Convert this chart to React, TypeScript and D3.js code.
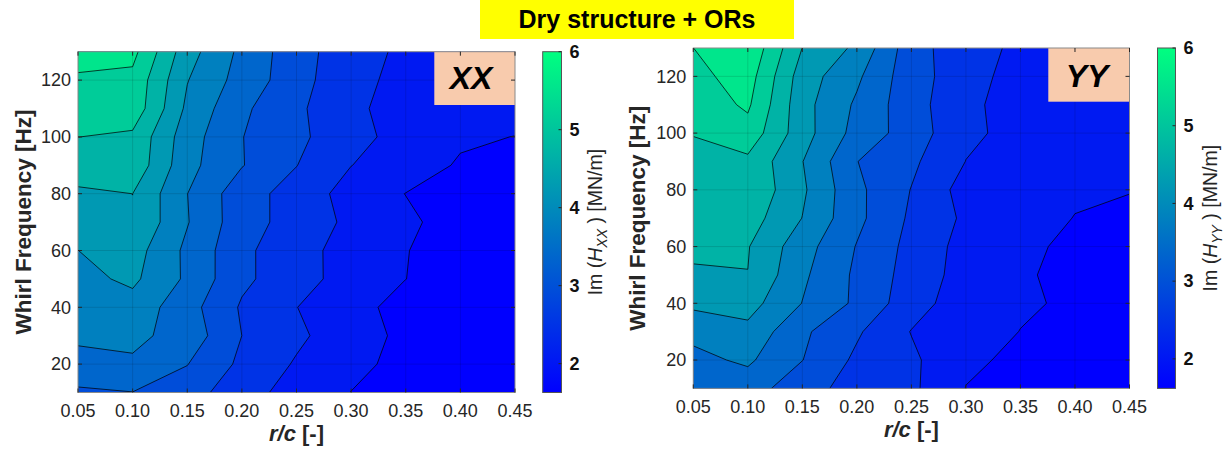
import React from "react";
import * as d3 from "d3";

// ---------- data ----------
const rc = [0.05, 0.1, 0.15, 0.2, 0.25, 0.3, 0.35, 0.4, 0.45];
const freq = [10, 20, 30, 40, 50, 60, 70, 80, 90, 100, 110, 120, 130];
const xTicks = [0.05, 0.1, 0.15, 0.2, 0.25, 0.3, 0.35, 0.4, 0.45];
const yTicks = [20, 40, 60, 80, 100, 120];
const cbTicks = [2, 3, 4, 5, 6];

// Im(H_XX) [MN/m], rows = freq (10 -> 130 Hz), cols = r/c (0.05 -> 0.45)
const imHxx = [
  [3.31, 3.37, 3.16, 2.64, 2.37, 2.06, 1.8, 1.67, 1.63],
  [3.66, 3.75, 3.39, 2.85, 2.46, 2.2, 1.92, 1.76, 1.7],
  [3.9, 3.92, 3.64, 2.94, 2.59, 2.24, 1.98, 1.78, 1.74],
  [3.99, 4.08, 3.55, 2.89, 2.51, 2.22, 1.91, 1.8, 1.76],
  [4.12, 4.34, 3.74, 3.03, 2.68, 2.32, 2.07, 1.87, 1.83],
  [4.25, 4.44, 3.72, 3.05, 2.62, 2.38, 2.08, 1.89, 1.85],
  [4.44, 4.67, 3.84, 3.12, 2.77, 2.41, 2.15, 1.88, 1.85],
  [4.63, 4.69, 3.82, 3.12, 2.77, 2.33, 2.06, 1.98, 1.94],
  [4.87, 5.0, 3.95, 3.4, 2.95, 2.51, 2.29, 2.02, 1.98],
  [5.13, 5.04, 4.01, 3.39, 3.03, 2.68, 2.31, 2.13, 2.06],
  [5.3, 5.41, 4.16, 3.46, 3.03, 2.57, 2.37, 2.31, 2.24],
  [5.5, 5.45, 4.27, 3.64, 3.13, 2.58, 2.43, 2.37, 2.31],
  [5.74, 5.69, 4.43, 3.71, 3.12, 2.68, 2.42, 2.35, 2.29],
];

// Im(H_YY) [MN/m]
const imHyy = [
  [3.5, 3.58, 3.1, 2.77, 2.58, 2.05, 1.8, 1.69, 1.62],
  [3.7, 3.88, 3.38, 2.85, 2.58, 2.12, 1.99, 1.8, 1.73],
  [3.92, 4.13, 3.45, 2.99, 2.48, 2.28, 2.05, 1.88, 1.8],
  [4.35, 4.42, 3.8, 3.29, 2.68, 2.26, 2.12, 1.99, 1.84],
  [4.6, 4.68, 3.89, 3.29, 2.76, 2.32, 2.12, 1.92, 1.86],
  [4.82, 4.71, 3.99, 3.35, 2.8, 2.34, 2.15, 1.97, 1.93],
  [4.93, 4.89, 4.24, 3.48, 2.86, 2.42, 2.19, 2.05, 1.99],
  [5.01, 5.06, 4.32, 3.47, 2.92, 2.32, 2.19, 2.1, 2.07],
  [5.08, 5.03, 4.26, 3.38, 3.02, 2.49, 2.28, 2.17, 2.12],
  [5.13, 5.4, 4.43, 3.65, 3.17, 2.58, 2.37, 2.19, 2.17],
  [5.3, 5.63, 4.4, 3.74, 3.1, 2.62, 2.26, 2.21, 2.19],
  [5.43, 5.76, 4.47, 3.89, 3.1, 2.71, 2.28, 2.23, 2.21],
  [5.56, 5.93, 4.68, 4.16, 3.11, 2.67, 2.41, 2.32, 2.28],
];

const zRangeXX = [1.63, 6];
const zRangeYY = [1.62, 6];

const FONT = "'Liberation Sans', Arial, Helvetica, sans-serif";
const AX = "#262626";

function winter(s: number) {
  const c = Math.max(0, Math.min(1, s));
  return `rgb(0,${Math.round(255 * c)},${Math.round(255 * (1 - 0.5 * c))})`;
}

type PanelProps = {
  id: string;
  data: number[][];
  zRange: number[];
  L: number;
  R: number;
  T: number;
  B: number;
  cbL: number;
  cbR: number;
  tag: string;
  sub: string;
  tagL: number;
  tagB: number;
  tagX: number;
  tagY: number;
  yLabX: number;
  xLabY: number;
  xTickY: number;
  cbLabX: number;
};

function Panel(p: PanelProps) {
  const { id, data, zRange, L, R, T, B, cbL, cbR } = p;
  const nx = rc.length;
  const ny = freq.length;
  const x = d3.scaleLinear().domain([rc[0], rc[nx - 1]]).range([L, R]);
  const y = d3.scaleLinear().domain([freq[0], freq[ny - 1]]).range([B, T]);
  const gx = d3.scaleLinear().domain([0.5, nx - 0.5]).range([x(rc[0]), x(rc[nx - 1])]);
  const gy = d3.scaleLinear().domain([0.5, ny - 0.5]).range([y(freq[0]), y(freq[ny - 1])]);
  const proj = d3.geoTransform({
    point: function (this: any, px: number, py: number) {
      this.stream.point(gx(px), gy(py));
    },
  });
  const path = d3.geoPath(proj as any);
  const [z0, z1] = zRange;
  const levels = d3.range(1, 10).map((k) => z0 + (k * (z1 - z0)) / 10);
  const contours = d3.contours().size([nx, ny]).thresholds(levels)(data.flat());
  const cbY = d3.scaleLinear().domain([z0, z1]).range([B, T]);
  const gradStops = d3.range(0, 11).map((i) => i / 10);
  const midY = (T + B) / 2;
  const tickLen = 4;

  return (
    <g>
      <defs>
        <clipPath id={`clip-${id}`}>
          <rect x={L} y={T} width={R - L} height={B - T} />
        </clipPath>
        <linearGradient id={`grad-${id}`} x1="0" y1="1" x2="0" y2="0">
          {gradStops.map((s) => (
            <stop key={s} offset={s} stopColor={winter(s)} />
          ))}
        </linearGradient>
      </defs>
      <g clipPath={`url(#clip-${id})`}>
        <rect x={L} y={T} width={R - L} height={B - T} fill={winter(0)} />
        {contours.map((c, i) => (
          <path key={`f${i}`} d={path(c as any) || ""} fill={winter((c.value - z0) / (z1 - z0))} stroke="none" />
        ))}
        {contours.map((c, i) => (
          <path key={`s${i}`} d={path(c as any) || ""} fill="none" stroke="#000" strokeWidth={0.8} strokeOpacity={0.9} />
        ))}
        {xTicks.map((t) => (
          <line key={`gx${t}`} x1={x(t)} x2={x(t)} y1={T} y2={B} stroke="#000" strokeOpacity={0.12} strokeWidth={1} />
        ))}
        {yTicks.map((t) => (
          <line key={`gy${t}`} x1={L} x2={R} y1={y(t)} y2={y(t)} stroke="#000" strokeOpacity={0.12} strokeWidth={1} />
        ))}
      </g>
      {/* tag box */}
      <rect x={p.tagL} y={T} width={R - p.tagL} height={p.tagB - T} fill="#F8CBAD" />
      <text x={p.tagX} y={p.tagY} textAnchor="middle" fontFamily={FONT} fontWeight="bold" fontStyle="italic" fontSize={32} fill="#000">
        {p.tag}
      </text>
      {/* axes box */}
      <rect x={L} y={T} width={R - L} height={B - T} fill="none" stroke="#8a8a8a" strokeWidth={1} />
      {xTicks.map((t) => (
        <g key={`xt${t}`}>
          <line x1={x(t)} x2={x(t)} y1={B} y2={B - tickLen} stroke={AX} />
          <line x1={x(t)} x2={x(t)} y1={T} y2={T + tickLen} stroke={AX} />
          <text x={x(t)} y={p.xTickY} textAnchor="middle" fontFamily={FONT} fontSize={18} fill={AX}>
            {d3.format(".2f")(t)}
          </text>
        </g>
      ))}
      {yTicks.map((t) => (
        <g key={`yt${t}`}>
          <line x1={L} x2={L + tickLen} y1={y(t)} y2={y(t)} stroke={AX} />
          <line x1={R} x2={R - tickLen} y1={y(t)} y2={y(t)} stroke={AX} />
          <text x={L - 7} y={y(t)} dy="0.35em" textAnchor="end" fontFamily={FONT} fontSize={18} fill={AX}>
            {t}
          </text>
        </g>
      ))}
      {/* axis labels */}
      <text x={(L + R) / 2} y={p.xLabY} textAnchor="middle" fontFamily={FONT} fontWeight="bold" fontSize={22} fill={AX}>
        <tspan fontStyle="italic">r/c</tspan> [-]
      </text>
      <text transform={`translate(${p.yLabX},${midY}) rotate(-90)`} textAnchor="middle" fontFamily={FONT} fontWeight="bold" fontSize={22.5} fill={AX}>
        Whirl Frequency [Hz]
      </text>
      {/* colorbar */}
      <rect x={cbL} y={T} width={cbR - cbL} height={B - T} fill={`url(#grad-${id})`} stroke="#555" strokeWidth={1} />
      {cbTicks.map((t) => (
        <g key={`cb${t}`}>
          <line x1={cbR} x2={cbR - 3} y1={cbY(t)} y2={cbY(t)} stroke={AX} />
          <text x={cbR + 8} y={cbY(t)} dy="0.35em" fontFamily={FONT} fontWeight="bold" fontSize={18} fill="#111">
            {t}
          </text>
        </g>
      ))}
      <text transform={`translate(${p.cbLabX},${midY}) rotate(-90)`} textAnchor="middle" fontFamily={FONT} fontSize={19.5} fill={AX}>
        Im (<tspan fontStyle="italic">H</tspan>
        <tspan fontStyle="italic" fontSize={14} dy={5}>
          {p.sub}
        </tspan>
        <tspan dy={-5}> ) [MN/m]</tspan>
      </text>
    </g>
  );
}

export default function App() {
  return (
    <svg width={1231} height={452} style={{ position: "absolute", left: 0, top: 0, display: "block", background: "#fff" }}>
      <rect x={0} y={0} width={1231} height={452} fill="#fff" />
      <rect x={480} y={0} width={314} height={39} fill="#FFFF00" />
      <text x={637} y={28} textAnchor="middle" fontFamily={FONT} fontWeight="bold" fontSize={25} fill="#000">
        Dry structure + ORs
      </text>
      <Panel
        id="xx"
        data={imHxx}
        zRange={zRangeXX}
        L={78}
        R={515}
        T={51.7}
        B={392.5}
        cbL={542.7}
        cbR={561.5}
        tag="XX"
        sub="XX"
        tagL={434.3}
        tagB={105}
        tagX={471}
        tagY={89}
        yLabX={31}
        xLabY={441}
        xTickY={417}
        cbLabX={602}
      />
      <Panel
        id="yy"
        data={imHyy}
        zRange={zRangeYY}
        L={693.3}
        R={1129.5}
        T={48}
        B={388.4}
        cbL={1157.5}
        cbR={1175.5}
        tag="YY"
        sub="YY"
        tagL={1048.3}
        tagB={101.7}
        tagX={1087}
        tagY={86.7}
        yLabX={645}
        xLabY={437}
        xTickY={413}
        cbLabX={1217}
      />
    </svg>
  );
}
